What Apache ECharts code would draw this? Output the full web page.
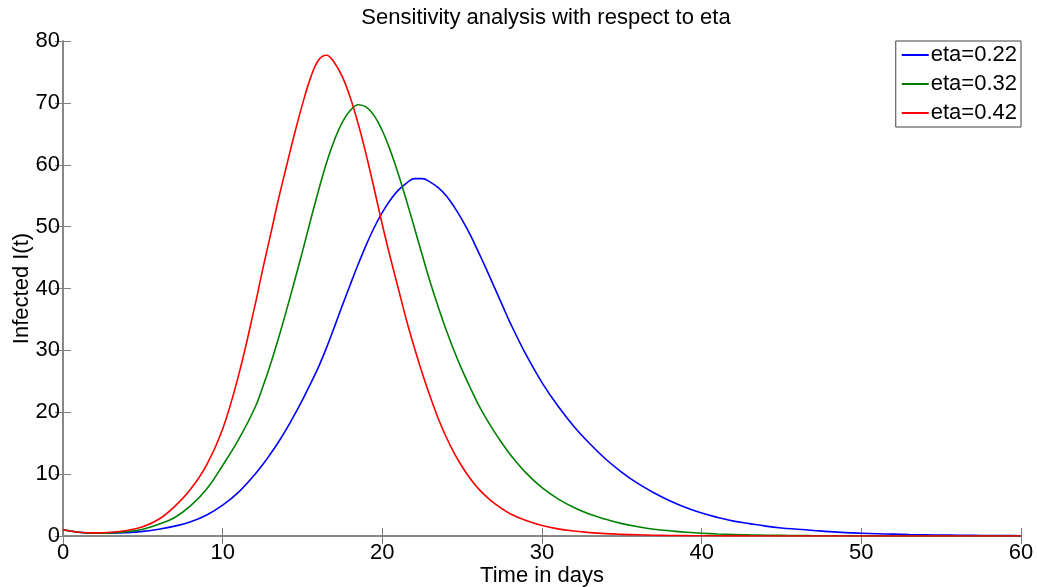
<!DOCTYPE html>
<html>
<head>
<meta charset="utf-8">
<script src="https://cdn.jsdelivr.net/npm/echarts@6/dist/echarts.min.js"></script>
<style>html,body{margin:0;padding:0;background:#fff}#c{width:1037px;height:587px}</style>
</head>
<body>
<div id="c"></div>
<script>
var days = [0,1,2,3,4,5,6,7,8,9,10,11,
  12,12.5,13,13.5,14,14.5,15,15.5,16,16.5,17,17.5,18,18.5,19,19.5,20,20.5,21,21.5,22,22.5,23,23.5,24,24.5,25,25.5,26,26.5,27,27.5,28,
  29,30,31,32,33,34,35,36,37,38,39,40,41,42,43,44,45,46,47,48,49,50,51,52,53,54,55,56,57,58,59,60];
var xTicks = [0, 10, 20, 30, 40, 50, 60];
var yTicks = [0, 10, 20, 30, 40, 50, 60, 70, 80];
var seriesNames = ['eta=0.22', 'eta=0.32', 'eta=0.42'];
var eta022 = [1.0,0.6,0.45,0.45,0.55,0.75,1.1,1.6,2.3,3.4,5.0,7.1,
  9.9,11.5,13.3,15.2,17.3,19.6,22.0,24.6,27.3,30.4,33.8,37.3,40.7,44.0,47.1,49.9,52.3,54.3,55.9,57.0,57.75,57.75,57.2,56.3,55.0,53.2,51.1,48.7,46.0,43.2,40.3,37.4,34.5,
  29.3,24.8,21.0,17.7,14.9,12.4,10.3,8.5,7.0,5.7,4.6,3.7,3.0,2.4,2.0,1.6,1.3,1.1,0.9,0.7,0.55,0.45,0.37,0.3,0.24,0.19,0.15,0.12,0.1,0.08,0.06,0.05];
var eta032 = [1.0,0.6,0.45,0.5,0.7,1.1,1.9,3.0,4.9,7.6,11.4,15.6,
  20.6,24.0,27.8,32.0,36.5,41.2,46.0,51.0,55.8,60.3,64.0,66.9,68.8,69.7,69.3,67.9,65.5,62.3,58.5,54.3,49.9,45.4,41.0,37.0,33.3,29.9,26.8,24.0,21.3,19.0,16.9,15.0,13.2,
  10.2,7.8,6.0,4.6,3.5,2.7,2.0,1.5,1.1,0.85,0.6,0.45,0.33,0.25,0.18,0.13,0.1,0.07,0.05,0.04,0.03,0.02,0.02,0.01,0.01,0.01,0,0,0,0,0,0];
var eta042 = [1.0,0.6,0.5,0.6,0.9,1.5,2.7,4.8,7.6,11.5,17.3,26.0,
  37.0,43.0,48.7,54.5,59.8,65.0,69.8,74.0,76.9,77.7,76.5,74.2,70.8,66.5,61.5,56.0,50.3,45.0,40.0,35.0,30.5,26.3,22.5,19.0,16.0,13.4,11.2,9.3,7.7,6.4,5.3,4.4,3.6,
  2.5,1.7,1.15,0.8,0.55,0.38,0.27,0.19,0.13,0.09,0.06,0.04,0.03,0.02,0.01,0.01,0,0,0,0,0,0,0,0,0,0,0,0,0,0,0,0];
var colors = ['#0000ff', '#008000', '#ff0000'];
var values = [eta022, eta032, eta042];

function build(k) {
  return days.map(function (d, i) { return [d, values[k][i]]; });
}

var axisGray = '#808080';
var font = 'Liberation Sans, Arial, Helvetica, sans-serif';

var chart = echarts.init(document.getElementById('c'), null, {renderer: 'canvas'});
chart.setOption({
  animation: false,
  backgroundColor: '#fff',
  title: {
    text: 'Sensitivity analysis with respect to eta',
    left: 541, textAlign: 'center', top: 2,
    textStyle: {fontFamily: font, fontSize: 22, fontWeight: 'normal', color: '#000'}
  },
  legend: {
    orient: 'vertical', right: 16, top: 41,
    data: seriesNames.map(function (n) { return {name: n, icon: 'rect'}; }),
    itemWidth: 27, itemHeight: 2, itemGap: 7,
    padding: [3, 4, 3, 6],
    borderColor: '#404040', borderWidth: 1, backgroundColor: '#fff',
    textStyle: {fontFamily: font, fontSize: 22, lineHeight: 22, color: '#000', padding: [0, 0, 0, -3]}
  },
  grid: {left: 63, right: 16, top: 41, bottom: 51, containLabel: false, outerBoundsMode: 'none'},
  xAxis: [{
    type: 'value', min: 0, max: 60, interval: 10,
    name: 'Time in days', nameLocation: 'middle', nameGap: 29, nameMoveOverlap: false,
    nameTextStyle: {fontFamily: font, fontSize: 22, color: '#000'},
    axisLine: {show: true, lineStyle: {color: axisGray, width: 1.5}},
    axisTick: {show: true, inside: true, length: 8, lineStyle: {color: axisGray}},
    axisLabel: {fontFamily: font, fontSize: 22, color: '#000', margin: 6,
      formatter: function (v) { return xTicks.indexOf(v) >= 0 ? String(v) : ''; }},
    splitLine: {show: false}
  }, {
    type: 'value', position: 'top', min: 0, max: 60, interval: 10,
    axisLine: {show: true, lineStyle: {color: axisGray, width: 1.5}},
    axisTick: {show: true, inside: true, length: 8, lineStyle: {color: axisGray}},
    axisLabel: {show: false}, splitLine: {show: false}
  }],
  yAxis: [{
    type: 'value', min: 0, max: 80, interval: 10,
    name: 'Infected I(t)', nameLocation: 'middle', nameGap: 30, nameMoveOverlap: false,
    nameTextStyle: {fontFamily: font, fontSize: 22, color: '#000'},
    axisLine: {show: true, lineStyle: {color: axisGray, width: 1.5}},
    axisTick: {show: true, inside: true, length: 8, lineStyle: {color: axisGray}},
    axisLabel: {fontFamily: font, fontSize: 22, color: '#000', margin: 3,
      formatter: function (v) { return yTicks.indexOf(v) >= 0 ? String(v) : ''; }},
    splitLine: {show: false}
  }, {
    type: 'value', position: 'right', min: 0, max: 80, interval: 10,
    axisLine: {show: true, lineStyle: {color: axisGray, width: 1.5}},
    axisTick: {show: true, inside: true, length: 8, lineStyle: {color: axisGray}},
    axisLabel: {show: false}, splitLine: {show: false}
  }],
  series: seriesNames.map(function (n, k) {
    return {
      name: n, type: 'line', data: build(k),
      xAxisIndex: 0, yAxisIndex: 0,
      showSymbol: false, symbol: 'none', smooth: 0.4,
      lineStyle: {color: colors[k], width: 1.6},
      itemStyle: {color: colors[k]}
    };
  })
});
</script>
</body>
</html>
